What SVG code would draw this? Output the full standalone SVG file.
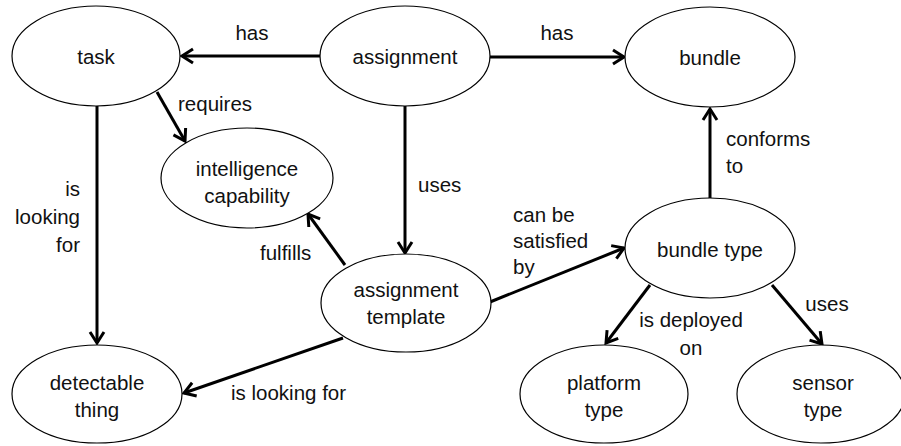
<svg xmlns="http://www.w3.org/2000/svg" width="901" height="446" viewBox="0 0 901 446">
<style>
  .node ellipse { fill: #ffffff; stroke: #000000; stroke-width: 1.2; }
  text { font-family: "Liberation Sans", Arial, sans-serif; font-size: 20.5px; fill: #111111; }
  .c { text-anchor: middle; }
  .e { text-anchor: end; }
  .edge line { stroke: #000000; stroke-width: 3; marker-end: url(#arr); }
</style>
<defs>
  <marker id="arr" markerUnits="userSpaceOnUse" markerWidth="16" markerHeight="18" refX="13" refY="9" orient="auto">
    <path d="M2,2 L13,9 L2,16" fill="none" stroke="#000000" stroke-width="3" stroke-linejoin="miter"/>
  </marker>
</defs>
<rect width="901" height="446" fill="#ffffff"/>
<g id="connectors" class="edge">
  <line x1="320" y1="56" x2="182" y2="56"/>
  <line x1="489" y1="57" x2="624" y2="57"/>
  <line x1="157" y1="92" x2="185" y2="141"/>
  <line x1="97" y1="106" x2="97" y2="343"/>
  <line x1="405" y1="106" x2="405" y2="253"/>
  <line x1="345" y1="265" x2="308" y2="214"/>
  <line x1="343" y1="338" x2="184" y2="393"/>
  <line x1="490" y1="302" x2="624" y2="248"/>
  <line x1="710" y1="199" x2="710" y2="109"/>
  <line x1="650" y1="285" x2="606" y2="343"/>
  <line x1="772" y1="285" x2="822" y2="344"/>
</g>
<g id="labels">
  <text class="c" x="252" y="40">has</text>
  <text class="c" x="557" y="40">has</text>
  <text x="178" y="111">requires</text>
  <text class="e" x="80" y="196">is</text>
  <text class="e" x="80" y="224">looking</text>
  <text class="e" x="80" y="252">for</text>
  <text x="418" y="192">uses</text>
  <text x="260" y="260">fulfills</text>
  <text x="231" y="400">is looking for</text>
  <text x="513" y="222">can be</text>
  <text x="513" y="248">satisfied</text>
  <text x="513" y="274">by</text>
  <text x="726" y="146">conforms</text>
  <text x="726" y="173">to</text>
  <text class="c" x="691" y="327">is deployed</text>
  <text class="c" x="691" y="355">on</text>
  <text class="c" x="827" y="311">uses</text>
</g>
<g id="task" class="node">
  <ellipse cx="96" cy="56" rx="84" ry="50"/>
  <text class="c" x="96" y="64">task</text>
</g>
<g id="assignment" class="node">
  <ellipse cx="405" cy="56" rx="85" ry="50"/>
  <text class="c" x="405" y="64">assignment</text>
</g>
<g id="bundle" class="node">
  <ellipse cx="710" cy="57" rx="85" ry="50"/>
  <text class="c" x="710" y="65">bundle</text>
</g>
<g id="intelligence-capability" class="node">
  <ellipse cx="247" cy="178" rx="86" ry="50"/>
  <text class="c" x="247" y="176">intelligence</text>
  <text class="c" x="247" y="203">capability</text>
</g>
<g id="assignment-template" class="node">
  <ellipse cx="406" cy="303" rx="85" ry="49"/>
  <text class="c" x="406" y="297">assignment</text>
  <text class="c" x="406" y="324">template</text>
</g>
<g id="bundle-type" class="node">
  <ellipse cx="710" cy="248" rx="85" ry="50"/>
  <text class="c" x="710" y="257">bundle type</text>
</g>
<g id="detectable-thing" class="node">
  <ellipse cx="97" cy="394" rx="85" ry="49"/>
  <text class="c" x="97" y="390">detectable</text>
  <text class="c" x="97" y="417">thing</text>
</g>
<g id="platform-type" class="node">
  <ellipse cx="604" cy="394" rx="84" ry="49"/>
  <text class="c" x="604" y="390">platform</text>
  <text class="c" x="604" y="417">type</text>
</g>
<g id="sensor-type" class="node">
  <ellipse cx="821" cy="394" rx="84" ry="49"/>
  <text class="c" x="823" y="390">sensor</text>
  <text class="c" x="823" y="417">type</text>
</g>
</svg>
